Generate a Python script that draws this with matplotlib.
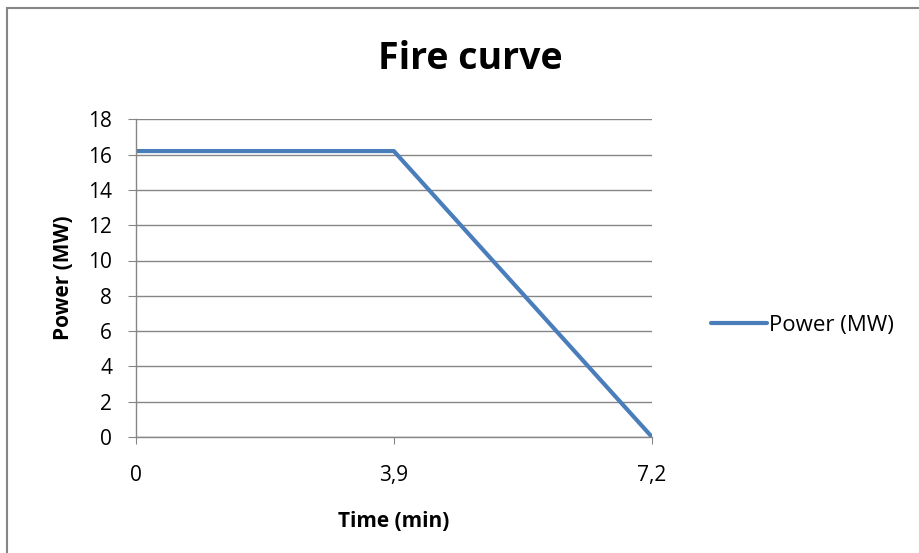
import matplotlib
matplotlib.use("Agg")
import matplotlib.pyplot as plt
from matplotlib.patches import Rectangle

# data
times = ["0", "3,9", "7,2"]
power = [16.2, 16.2, 0]
y_ticks = [0, 2, 4, 6, 8, 10, 12, 14, 16, 18]

plt.rcParams['font.family'] = ['Open Sans', 'DejaVu Sans']
grey = '#868686'

fig = plt.figure(figsize=(9.19, 5.53), dpi=100)
ax = fig.add_axes([135.7 / 919, 1 - 437 / 553, (652 - 135.7) / 919, (437 - 119.3) / 553])

ax.plot(times, power, color='#4A7EBB', lw=3, solid_capstyle='round', label='Power (MW)')

ax.set_xlim(0, len(times) - 1)
ax.set_ylim(0, 18)
ax.set_yticks(y_ticks)
ax.yaxis.grid(True, color=grey, lw=1)
ax.set_axisbelow(True)

for side in ['top', 'right']:
    ax.spines[side].set_visible(False)
for side in ['left', 'bottom']:
    ax.spines[side].set_color(grey)
    ax.spines[side].set_linewidth(1)

ax.tick_params(axis='y', direction='out', length=6, color=grey, labelsize=15, pad=11)
ax.tick_params(axis='x', direction='out', length=5, color=grey, labelsize=15, pad=15)

ax.set_xlabel("Time (min)", fontsize=15, fontweight='bold', labelpad=18)
ax.set_ylabel("Power (MW)", fontsize=15, fontweight='bold', labelpad=10)
fig.text(470 / 919, 1 - 59 / 553, "Fire curve", fontsize=27, fontweight='bold',
         ha='center', va='center')

ax.legend(loc='center left', bbox_to_anchor=(691 / 919, 1 - 325 / 553),
          bbox_transform=fig.transFigure, frameon=False, fontsize=16,
          handlelength=2.5, handletextpad=0.1)

# outer chart frame
fig.patches.append(Rectangle((7 / 919, -0.05), 1.1, 1.05 - 8 / 553, transform=fig.transFigure,
                             fill=False, edgecolor=grey, lw=1.5))

fig.savefig("out.png", dpi=100)
plt.close(fig)
